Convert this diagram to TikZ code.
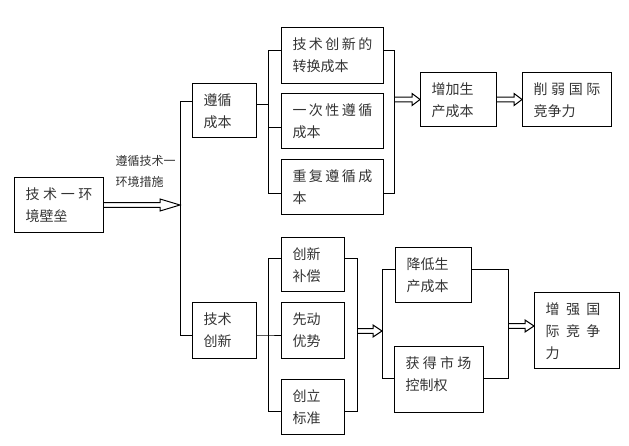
\documentclass[tikz,border=0pt]{standalone}
\usepackage{fontspec}
\newfontfamily\cjk{Noto Sans CJK SC}
\usetikzlibrary{calc}
\newlength\px
\setlength\px{0.75pt}
% double-line hollow arrow: #1 start, #2 tip (same y), #3 head length in px
\newcommand{\dblarr}[3]{%
  \draw[arrline] ($(#1)+(0,-2.4)$) -- ($(#2)+(-#3,-2.4)$) -- ($(#2)+(-#3,-6)$) -- (#2)
    -- ($(#2)+(-#3,6)$) -- ($(#2)+(-#3,2.4)$) -- ($(#1)+(0,2.4)$);}
\newcommand{\spr}[2]{\makebox[#1\px][s]{#2}}
\begin{document}
\begin{tikzpicture}[x=0.75pt,y=-0.75pt,line width=0.75pt,
  bx/.style 2 args={draw=black, rectangle, anchor=north west, inner xsep=8.25pt,
    inner ysep=0pt, text width=#1, text height=16.5pt, text depth=#2,
    align=left, font=\cjk\fontsize{10.5pt}{16.5pt}\selectfont, text=black!80},
  lbl/.style={anchor=north west, inner sep=0pt, align=left,
    font=\cjk\fontsize{9pt}{15.75pt}\selectfont, text=black!80},
  conn/.style={draw=black, line width=0.75pt},
  arrline/.style={draw=black, line width=0.75pt, line join=miter}]
\useasboundingbox (0,0) rectangle (629,446);

% boxes
\node[bx={50.25pt}{24.75pt}] (barrier) at (14,177) {\spr{67}{技\hfill 术\hfill 一\hfill 环}\\境壁垒};
\node[lbl] (lab) at (115,155) {遵循技术一\\环境措施};
\node[bx={31.5pt}{24pt}] (zx) at (192,83) {遵循\\成本};
\node[bx={60pt}{25.5pt}] (t1) at (281,27) {\spr{80}{技\hfill 术\hfill 创\hfill 新\hfill 的}\\转换成本};
\node[bx={60pt}{24.75pt}] (t2) at (281,93) {\spr{80}{一\hfill 次\hfill 性\hfill 遵\hfill 循}\\成本};
\node[bx={60pt}{24.75pt}] (t3) at (281,159) {\spr{80}{重\hfill 复\hfill 遵\hfill 循\hfill 成}\\本};
\node[bx={40.5pt}{24pt}] (zj) at (420,72) {增加生\\产成本};
\node[bx={50.25pt}{24pt}] (xr) at (522,72) {\spr{67}{削\hfill 弱\hfill 国\hfill 际}\\竞争力};

\node[bx={31.5pt}{25.5pt}] (jscx) at (192,302) {技术\\创新};
\node[bx={30.75pt}{24pt}] (cb) at (281,237) {创新\\补偿};
\node[bx={30.75pt}{25.5pt}] (xd) at (281,302) {先动\\优势};
\node[bx={30.75pt}{24.75pt}] (cl) at (281,379) {创立\\标准};
\node[bx={40.5pt}{24.75pt}] (jd) at (395,247) {降低生\\产成本};
\node[bx={50.25pt}{33pt}] (hd) at (394,346) {\spr{66}{获\hfill 得\hfill 市\hfill 场}\\控制权};
\node[bx={47.25pt}{40.5pt}] (zq) at (534,292) {\spr{55}{增\hfill 强\hfill 国}\\\spr{55}{际\hfill 竞\hfill 争}\\力};

% trunk
\coordinate (tk1) at (180,101);
\coordinate (tk2) at (180,335);
\draw[conn] (zx.west |- tk1) -- (tk1) -- (tk2) -- (jscx.west |- tk2);
\coordinate (a1) at (barrier.east -| tk1);
\dblarr{barrier.east}{a1}{20}

% upper brackets
\coordinate (b1) at (268,50);
\coordinate (b2) at (268,193);
\coordinate (jn1) at (268,104);
\coordinate (m1) at (268,127);
\draw[conn] (zx.east |- jn1) -- (jn1);
\draw[conn] (t1.west |- b1) -- (b1) -- (b2) -- (t3.west |- b2);
\draw[conn] (m1) -- (t2.west |- m1);
\coordinate (r1) at (394,50);
\coordinate (r2) at (394,193);
\draw[conn] (t1.east |- r1) -- (r1) -- (r2) -- (t3.east |- r2);
\coordinate (a2s) at (zj.west -| r1);
\dblarr{a2s}{zj.west}{8}
\dblarr{zj.east}{xr.west}{8}

% lower brackets
\coordinate (c1) at (268,258);
\coordinate (c2) at (268,411);
\coordinate (cm) at (268,335);
\draw[conn] (jscx.east |- cm) -- (cm) -- (xd.west |- cm);
\draw[conn] (cb.west |- c1) -- (c1) -- (c2) -- (cl.west |- c2);
\coordinate (d1) at (357,258);
\coordinate (d2) at (357,411);
\draw[conn] (cb.east |- d1) -- (d1) -- (d2) -- (cl.east |- d2);
\coordinate (a3s) at (357,331);
\coordinate (a3e) at (382,331);
\dblarr{a3s}{a3e}{9}
\coordinate (e1) at (382,269);
\coordinate (e2) at (382,378);
\draw[conn] (jd.west |- e1) -- (e1) -- (e2) -- (hd.west |- e2);
\coordinate (f1) at (508,269);
\coordinate (f2) at (508,378);
\draw[conn] (jd.east |- f1) -- (f1) -- (f2) -- (hd.east |- f2);
\coordinate (a4s) at (508,326);
\coordinate (a4e) at (zq.west |- a4s);
\dblarr{a4s}{a4e}{9}
\end{tikzpicture}
\end{document}
